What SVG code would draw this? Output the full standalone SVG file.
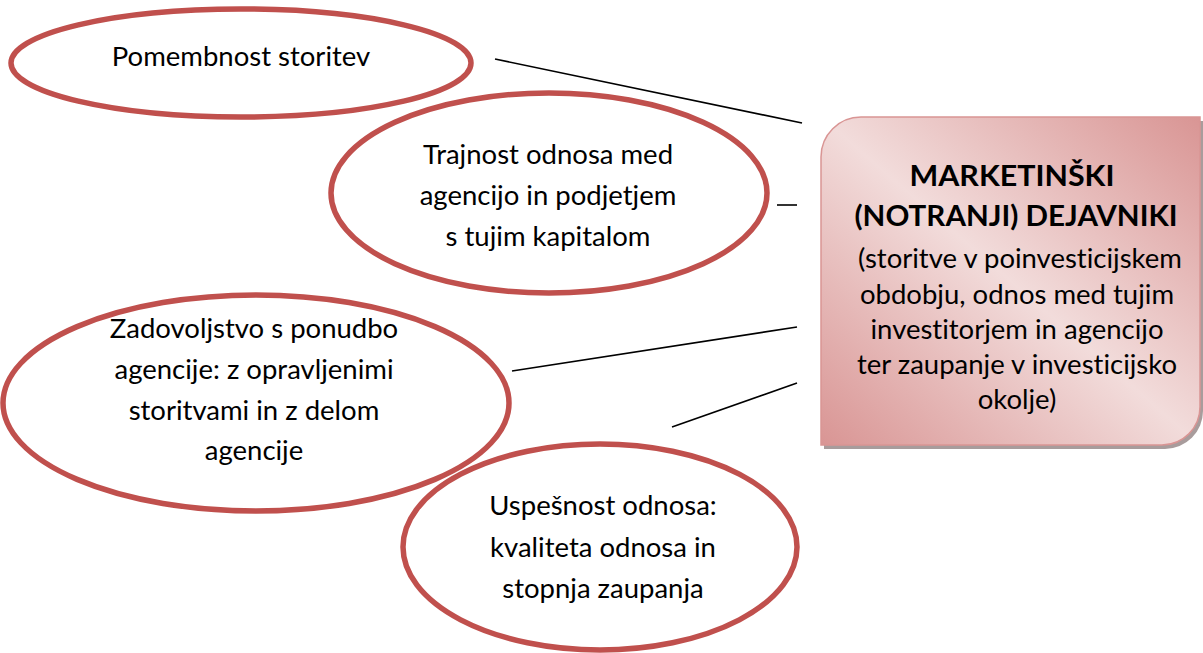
<svg xmlns="http://www.w3.org/2000/svg" width="1203" height="653" viewBox="0 0 1203 653">
  <defs>
    <linearGradient id="boxFill" x1="0" y1="1" x2="1" y2="0">
      <stop offset="0" stop-color="#D99594"/>
      <stop offset="0.5" stop-color="#F2DCDB"/>
      <stop offset="1" stop-color="#D99594"/>
    </linearGradient>
    <style>
      .oval { fill: #FFFFFF; stroke: #C0504D; stroke-width: 5.5; }
      .label { font-family: Lato, "Liberation Sans", sans-serif; font-size: 27.5px; fill: #000000; text-anchor: middle; font-variant-ligatures: none; }
      .title { font-weight: bold; font-size: 29px; }
      .link { stroke: #000000; stroke-width: 1.6; fill: none; }
    </style>
  </defs>

  <rect width="1203" height="653" fill="#FFFFFF"/>

  <!-- connectors -->
  <g id="connectors">
    <line class="link" x1="495" y1="59" x2="802" y2="123"/>
    <line class="link" x1="777" y1="205" x2="797" y2="205"/>
    <line class="link" x1="512" y1="371" x2="797" y2="327"/>
    <line class="link" x1="672" y1="427" x2="797" y2="383"/>
  </g>

  <g id="node-pomembnost">
    <ellipse class="oval" cx="241" cy="63" rx="230" ry="54"/>
    <text class="label" x="241" y="66">Pomembnost storitev</text>
  </g>

  <g id="node-trajnost">
    <ellipse class="oval" cx="549" cy="193" rx="218" ry="100"/>
    <text class="label" x="548" y="164">Trajnost odnosa med</text>
    <text class="label" x="548" y="205">agencijo in podjetjem</text>
    <text class="label" x="548" y="246">s tujim kapitalom</text>
  </g>

  <g id="node-zadovoljstvo">
    <ellipse class="oval" cx="256" cy="403" rx="253" ry="108"/>
    <text class="label" x="254" y="338">Zadovoljstvo s ponudbo</text>
    <text class="label" x="254" y="379">agencije: z opravljenimi</text>
    <text class="label" x="254" y="420">storitvami in z delom</text>
    <text class="label" x="254" y="460">agencije</text>
  </g>

  <g id="node-uspesnost">
    <ellipse class="oval" cx="600" cy="547" rx="197" ry="103"/>
    <text class="label" x="603" y="515">Uspešnost odnosa:</text>
    <text class="label" x="603" y="557">kvaliteta odnosa in</text>
    <text class="label" x="603" y="598">stopnja zaupanja</text>
  </g>

  <g id="node-marketinski">
    <path d="M 864 121 H 1203 V 411 A 38 38 0 0 1 1165 449 H 824 V 161 A 40 40 0 0 1 864 121 Z" fill="#A89C9C"/>
    <path d="M 861 117 H 1200 V 407 A 38 38 0 0 1 1162 445 H 821 V 157 A 40 40 0 0 1 861 117 Z" fill="url(#boxFill)" stroke="#D99594" stroke-width="1.5"/>
    <text class="label title" x="1012" y="186" textLength="205" lengthAdjust="spacingAndGlyphs">MARKETINŠKI</text>
    <text class="label title" x="1016" y="226" textLength="323" lengthAdjust="spacingAndGlyphs">(NOTRANJI) DEJAVNIKI</text>
    <text class="label" x="1020" y="268">(storitve v poinvesticijskem</text>
    <text class="label" x="1017" y="304">obdobju, odnos med tujim</text>
    <text class="label" x="1017" y="339">investitorjem in agencijo</text>
    <text class="label" x="1017" y="374">ter zaupanje v investicijsko</text>
    <text class="label" x="1017" y="409">okolje)</text>
  </g>
</svg>
